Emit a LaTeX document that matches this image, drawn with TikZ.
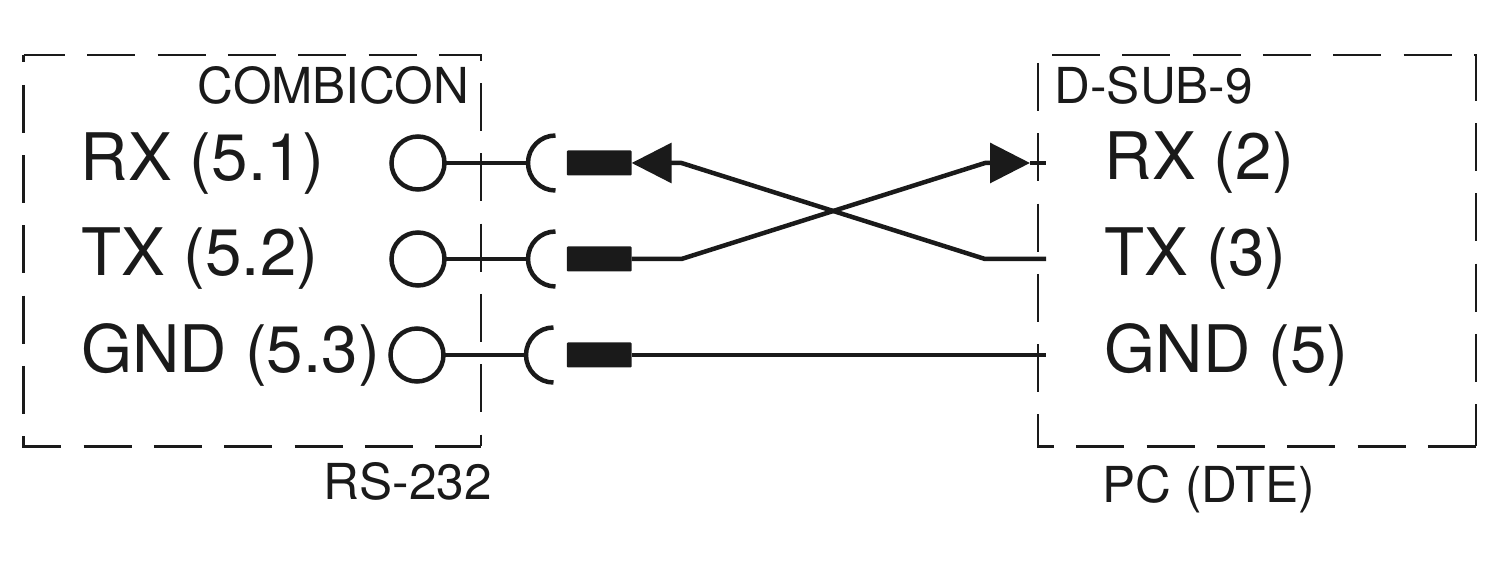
\documentclass[tikz,border=0pt]{standalone}
\usepackage{fontspec}
\setmainfont{TeX Gyre Heros}
\usetikzlibrary{arrows.meta}
\definecolor{ink}{HTML}{1A1A1A}
\tikzset{
    boxline/.style={draw=ink, line width=0.025cm, dash pattern=on 0.48cm off 0.223cm},
    wire/.style={draw=ink, line width=0.045cm, line join=round},
    arrowwire/.style={wire, -{Triangle[length=0.40cm, width=0.396cm]}},
    terminal/.style={circle, draw=ink, line width=0.045cm, minimum size=0.53cm, inner sep=0pt, outer sep=0pt},
    plug/.style={rectangle, fill=ink, rounded corners=0.01cm, minimum width=0.647cm, minimum height=0.25cm, inner sep=0pt, outer sep=0pt},
    biglabel/.style={anchor=base west, inner sep=0pt, text=ink, font=\fontsize{18.65}{20}\selectfont},
    smalllabel/.style={anchor=base west, inner sep=0pt, text=ink, font=\fontsize{14.1}{16}\selectfont}
}
\begin{document}
\begin{tikzpicture}
    \useasboundingbox (0,0) rectangle (15,5.86);

    % Boitiers en pointilles
    \draw[boxline, dash phase=0.065cm] (0.235,5.31) -- (4.81,5.31) -- (4.81,1.395);
    \draw[boxline, dash phase=0.405cm] (0.235,5.31) -- (0.235,1.395) -- (4.81,1.395);
    \draw[boxline, dash phase=0.563cm] (10.38,5.31) -- (14.76,5.31) -- (14.76,1.395);
    \draw[boxline, dash phase=0.623cm] (10.38,5.31) -- (10.38,1.395) -- (14.76,1.395);

    % Textes du cote COMBICON
    \node[smalllabel] (combicon) at (1.97,4.82) {COMBICON};
    \node[biglabel] (rxleft) at (0.80,4.05) {RX (5.1)};
    \node[biglabel] (txleft) at (0.81,3.10) {TX (5.2)};
    \node[biglabel] (gndleft) at (0.805,2.13) {GND (5.3)};
    \node[smalllabel] (rs232) at (3.23,0.86) {RS-232};

    % Textes du cote D-SUB
    \node[smalllabel] (dsub) at (10.54,4.82) {D-SUB-9};
    \node[biglabel] (rxright) at (11.04,4.06) {RX (2)};
    \node[biglabel] (txright) at (11.04,3.10) {TX (3)};
    \node[biglabel] (gndright) at (11.04,2.13) {GND (5)};
    \node[smalllabel] (pcdte) at (11.02,0.83) {PC (DTE)};

    % Bornes, prises et fiches
    \node[terminal] (term1) at (4.18,4.23) {};
    \node[terminal] (term2) at (4.18,3.27) {};
    \node[terminal] (term3) at (4.17,2.31) {};
    \coordinate (sock1) at (5.28,4.23);
    \coordinate (sock2) at (5.28,3.27);
    \coordinate (sock3) at (5.26,2.31);
    \node[plug] (plug1) at (5.993,4.23) {};
    \node[plug] (plug2) at (5.993,3.27) {};
    \node[plug] (plug3) at (5.993,2.31) {};

    % Extremites et coudes des fils
    \coordinate (kneeA) at (6.815,4.23);
    \coordinate (kneeB) at (6.815,3.27);
    \coordinate (kneeC) at (9.85,4.23);
    \coordinate (kneeD) at (9.85,3.27);
    \coordinate (tipRX) at (10.30,4.23);
    \coordinate (endRX) at (10.46,4.23);
    \coordinate (endTX) at (10.46,3.27);
    \coordinate (endGND) at (10.46,2.31);

    % Fils entre bornes et prises
    \draw[wire] (term1.east) -- (sock1);
    \draw[wire] (term2.east) -- (sock2);
    \draw[wire] (term3.east) -- (sock3);

    % Prises en demi-cercle
    \draw[wire] (sock1) arc (180:90:0.275);
    \draw[wire] (sock1) arc (180:270:0.275);
    \draw[wire] (sock2) arc (180:90:0.275);
    \draw[wire] (sock2) arc (180:270:0.275);
    \draw[wire] (sock3) arc (180:90:0.275);
    \draw[wire] (sock3) arc (180:270:0.275);

    % Liaisons croisees
    \draw[arrowwire] (endTX) -- (kneeD) -- (kneeA) -- (plug1.east);
    \draw[arrowwire] (plug2.east) -- (kneeB) -- (kneeC) -- (tipRX);
    \draw[wire] (tipRX) -- (endRX);
    \draw[wire] (plug3.east) -- (endGND);
\end{tikzpicture}
\end{document}
